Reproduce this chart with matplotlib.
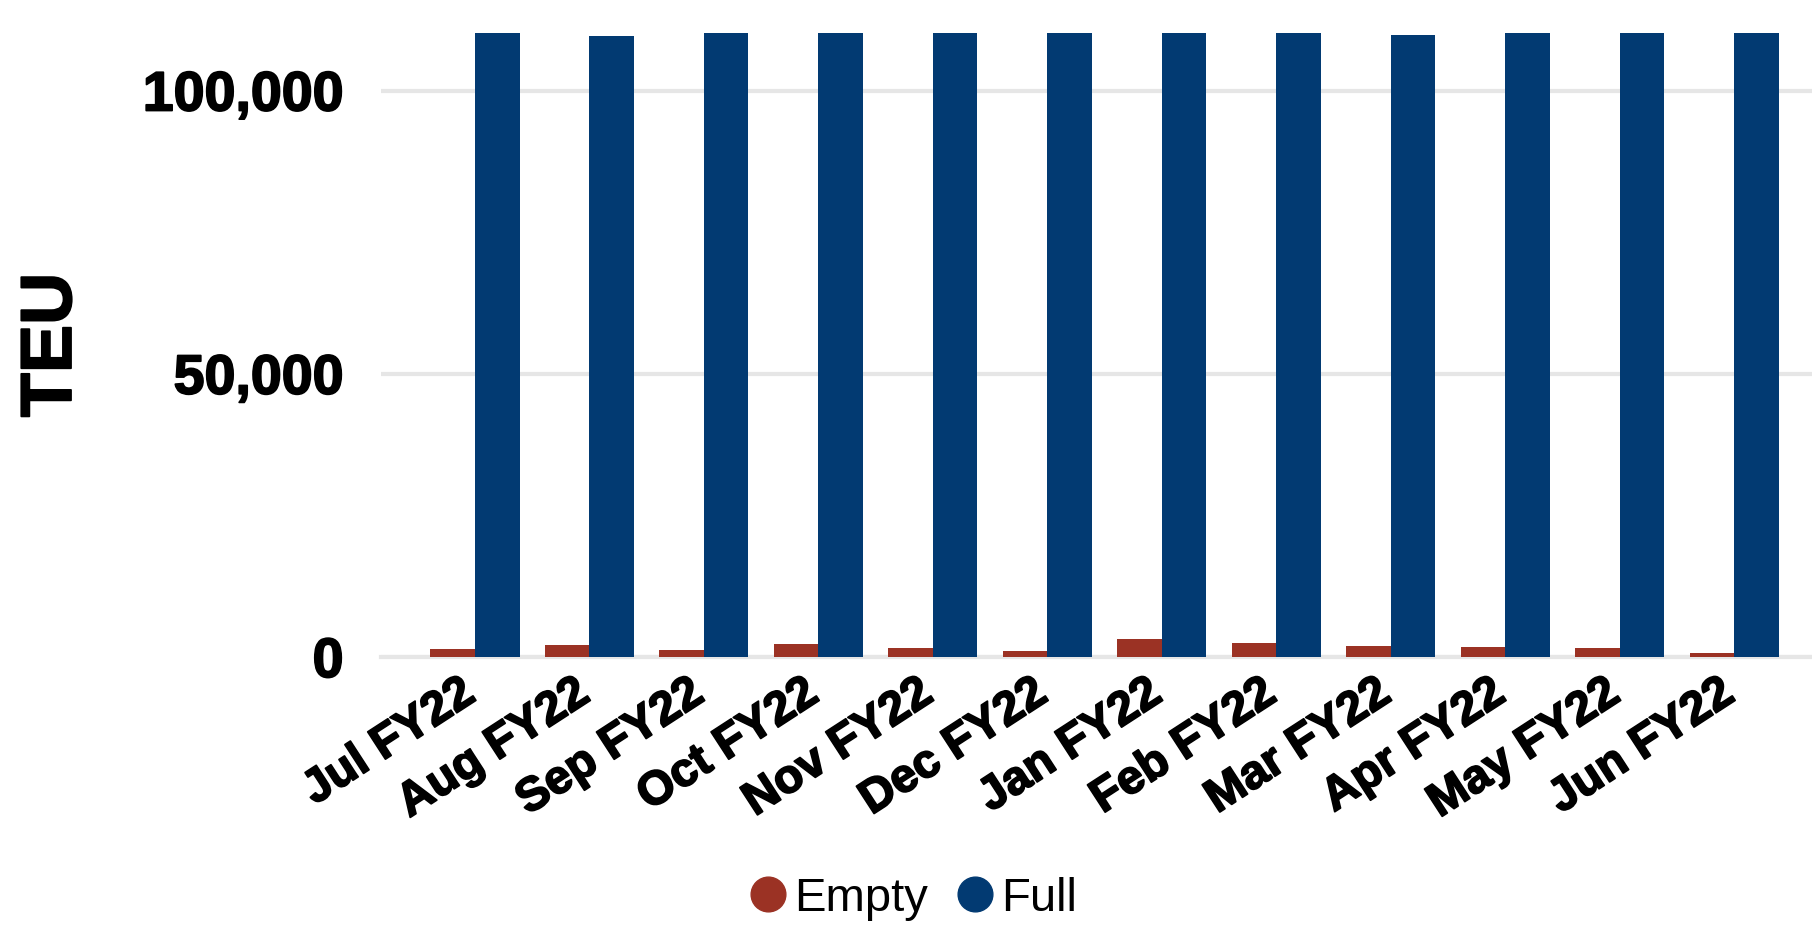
import matplotlib
matplotlib.use("Agg")
import matplotlib.pyplot as plt
from matplotlib.lines import Line2D
from matplotlib.ticker import FuncFormatter
from matplotlib.transforms import ScaledTranslation
import matplotlib.patheffects as pe
import numpy as np

months = ["Jul FY22", "Aug FY22", "Sep FY22", "Oct FY22", "Nov FY22", "Dec FY22",
          "Jan FY22", "Feb FY22", "Mar FY22", "Apr FY22", "May FY22", "Jun FY22"]
empty = [1410, 2060, 1180, 2230, 1530, 1000, 3120, 2410, 1880, 1700, 1530, 650]
full = [110200, 109600, 110200, 110200, 110200, 110200, 110200, 110200, 109800, 110200, 110200, 110200]
yticks = [0, 50000, 100000]

RED = "#9B3224"
BLUE = "#023A72"
GRID = "#E6E6E6"

plt.rcParams['font.family'] = ['Liberation Sans', 'DejaVu Sans']

fig = plt.figure(figsize=(18.12, 9.30), dpi=100)
W, H = 1812, 930
left_px, zero_px, top_px = 381, 657, 20
ax = fig.add_axes([left_px / W, (H - zero_px) / H, 1 - left_px / W, (zero_px - top_px) / H])

x = np.arange(len(months))
bw = 0.39
ax.bar(x - bw / 2, empty, width=bw, color=RED, zorder=2)
ax.bar(x + bw / 2, full, width=bw, color=BLUE, zorder=2)

ymax = (zero_px - top_px) / ((zero_px - 90.5) / 100000)
ax.set_ylim(0, ymax)
ax.set_xlim(-0.82, len(months) - 1 + 0.68)

heavy = [pe.withStroke(linewidth=1.3, foreground='black')]

ax.set_yticks(yticks)
ax.yaxis.set_major_formatter(FuncFormatter(lambda v, p: f"{int(v):,}"))
ax.grid(axis='y', color=GRID, linewidth=3, zorder=0)
ax.grid(axis='x', visible=False)
ax.set_axisbelow(True)
for s in ["top", "right", "left"]:
    ax.spines[s].set_visible(False)
ax.spines["bottom"].set_color(GRID)
ax.spines["bottom"].set_linewidth(3)
ax.spines["bottom"].set_zorder(1)

ax.tick_params(axis='y', length=0, pad=27, labelsize=40)
for lab in ax.get_yticklabels():
    lab.set_fontweight('bold')
    lab.set_path_effects(heavy)

ax.set_xticks(x)
ax.set_xticklabels(months, rotation=33, ha='right', rotation_mode='anchor',
                   fontsize=34, fontweight='bold')
ax.tick_params(axis='x', length=0, pad=10)
off = ScaledTranslation(-16 / 100, 0, fig.dpi_scale_trans)
for lab in ax.get_xticklabels():
    lab.set_transform(lab.get_transform() + off)
    lab.set_path_effects(heavy)

fig.text(52 / W, 1 - 345 / H, "TEU", rotation=90, ha='center', va='center',
         fontsize=52, fontweight='bold', path_effects=heavy)

handles = [Line2D([], [], linestyle='none', marker='o', markersize=25, color=RED),
           Line2D([], [], linestyle='none', marker='o', markersize=25, color=BLUE)]
fig.legend(handles, ["Empty", "Full"], loc='center', bbox_to_anchor=(913 / W, 1 - 899 / H),
           ncol=2, frameon=False, fontsize=34, handletextpad=0.15, columnspacing=0.6,
           handlelength=0.8, borderpad=0)

fig.savefig("out.png", dpi=100)
